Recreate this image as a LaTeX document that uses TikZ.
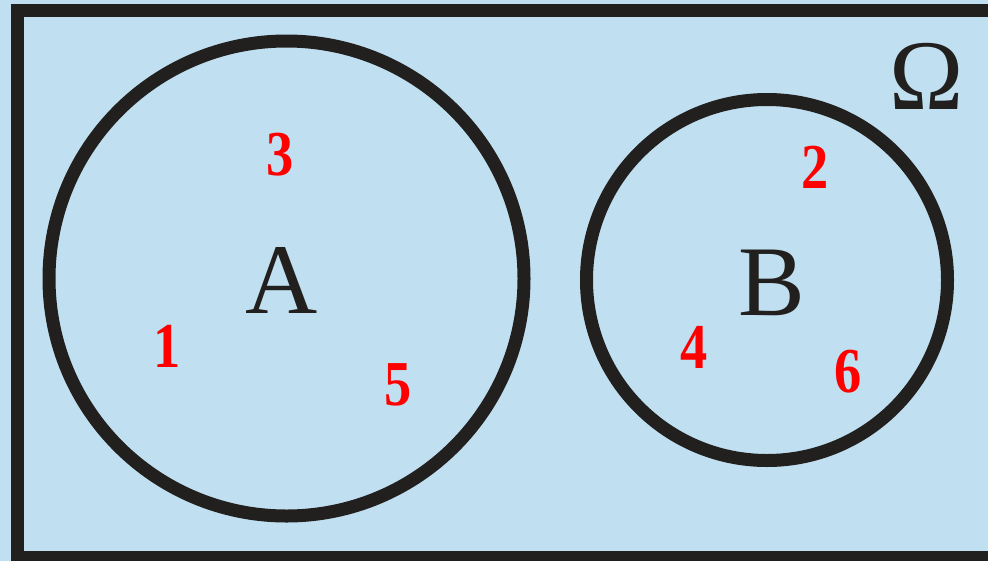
\documentclass[tikz,border=0pt]{standalone}
\usepackage{fontspec}
\setmainfont{Liberation Serif}
\definecolor{bgblue}{RGB}{192,223,240}
\definecolor{inkdark}{RGB}{34,32,30}
\definecolor{numred}{RGB}{255,0,0}
\tikzset{
  setcircle/.style={draw=inkdark, line width=13pt},
  elem/.style={text=numred, inner sep=0pt, font=\fontsize{64}{64}\selectfont\bfseries, xscale=0.85},
  setlabel/.style={text=inkdark, inner sep=0pt, font=\fontsize{100}{100}\selectfont},
}
\begin{document}
\begin{tikzpicture}[x=1pt,y=-1pt]
\useasboundingbox (0,0) rectangle (988,560);
\clip (0,0) rectangle (988,560);
\fill[bgblue] (-5,-5) rectangle (993,565);
\coordinate (fa) at (17,10);
\coordinate (fb) at (1010,557);
\draw[draw=inkdark, line width=13pt] (fa) rectangle (fb);
\node[setcircle, circle, minimum size=475pt, inner sep=0pt] (circA) at (286.5,278.5) {};
\node[setcircle, circle, minimum size=361pt, inner sep=0pt] (circB) at (767,280) {};
\node[setlabel] (labA) at (282,280) {A};
\node[setlabel] (labB) at (772,283) {B};
\node[setlabel] (omega) at (927,76) {Ω};
\node[elem] (n3) at (280,155) {3};
\node[elem] (n1) at (167,346) {1};
\node[elem] (n5) at (398,385) {5};
\node[elem] (n2) at (815,167) {2};
\node[elem] (n4) at (694,347) {4};
\node[elem] (n6) at (848,372) {6};
\end{tikzpicture}
\end{document}
